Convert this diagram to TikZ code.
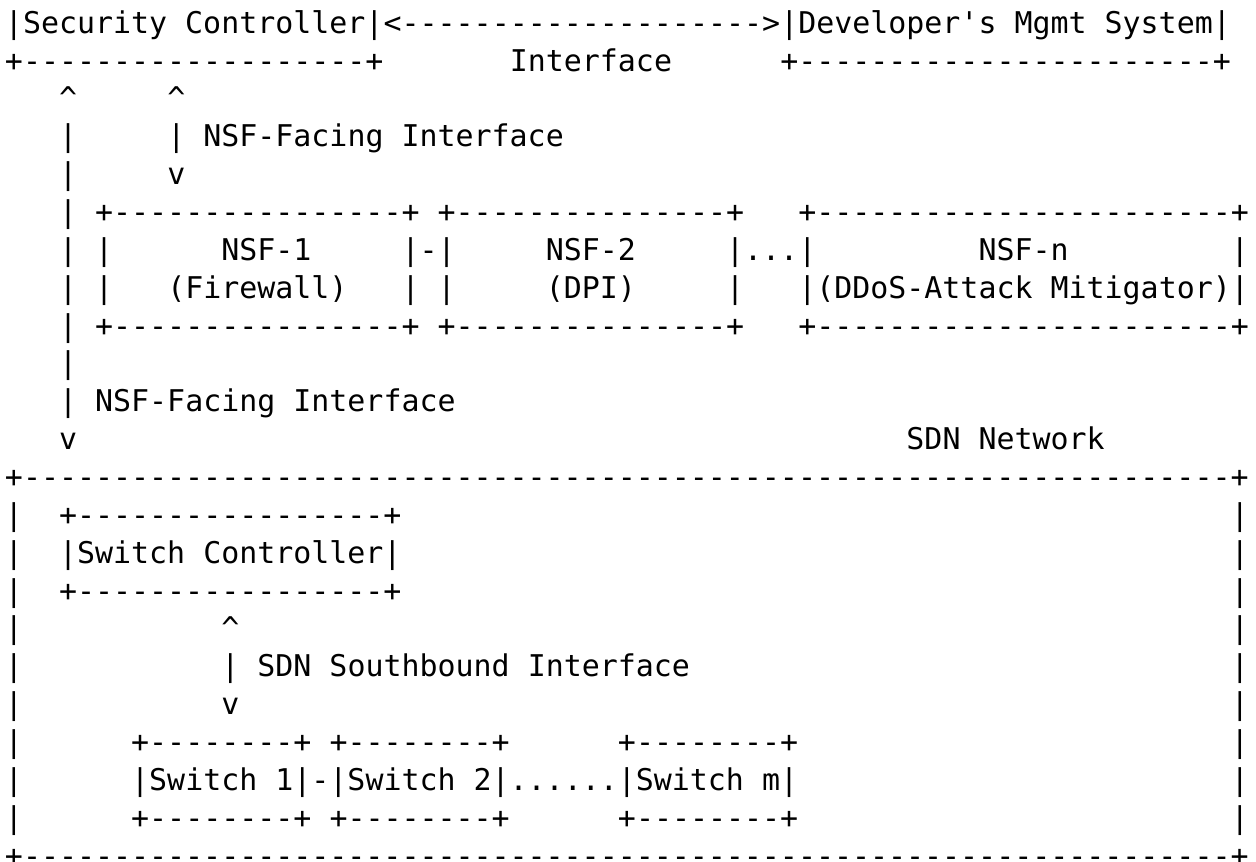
\documentclass[tikz,border=0pt]{standalone}
\usepackage{fontspec}
\newfontfamily\asciifont{DejaVu Sans Mono}[Ligatures=TeXOff]

\tikzset{ascii/.style={anchor=base west, inner sep=0pt, outer sep=0pt,
    font={\asciifont\fontsize{14.97pt}{18pt}\selectfont}}}
\newcommand\dashes[1]{\foreach \i in {1,...,#1}{-}}
\newcommand\cell[3]{\node[ascii] (r#1c#2) at (#2+0.277,#1-0.123) {#3};}

\begin{document}
\begin{tikzpicture}[x=9.015pt, y=-18.93pt]
    \fill[white] (0,0) rectangle (69.665,22.768);
    \useasboundingbox (0,0) rectangle (69.665,22.768);

    \cell{1}{0}{|Security Controller|}
    \cell{1}{21}{<\dashes{20}>}
    \cell{1}{43}{|Developer's Mgmt System|}
    \cell{2}{0}{+\dashes{19}+}
    \cell{2}{28}{Interface}
    \cell{2}{43}{+\dashes{23}+}

    \foreach \c in {3,9} {\cell{3}{\c}{\textasciicircum}}
    \foreach \r in {4,...,11} {\cell{\r}{3}{|}}
    \cell{4}{9}{|} \cell{4}{11}{NSF-Facing Interface}
    \cell{5}{9}{v}

    \foreach \r in {6,9} {
        \cell{\r}{5}{+\dashes{16}+}
        \cell{\r}{24}{+\dashes{15}+}
        \cell{\r}{44}{+\dashes{23}+}
    }
    \cell{7}{5}{|} \cell{7}{12}{NSF-1} \cell{7}{22}{|-|} \cell{7}{30}{NSF-2}
    \cell{7}{40}{|...|} \cell{7}{54}{NSF-n} \cell{7}{68}{|}
    \cell{8}{5}{|} \cell{8}{9}{(Firewall)} \cell{8}{22}{|} \cell{8}{24}{|}
    \cell{8}{30}{(DPI)} \cell{8}{40}{|} \cell{8}{44}{|(DDoS-Attack Mitigator)|}

    \cell{11}{5}{NSF-Facing Interface}
    \cell{12}{3}{v} \cell{12}{50}{SDN Network}

    \foreach \r in {13,23} {\cell{\r}{0}{+\dashes{67}+}}
    \foreach \r in {14,...,22} {
        \cell{\r}{0}{|}
        \cell{\r}{68}{|}
    }
    \foreach \r in {14,16} {\cell{\r}{3}{+\dashes{17}+}}
    \cell{15}{3}{|Switch Controller|}
    \cell{17}{12}{\textasciicircum}
    \cell{18}{12}{|} \cell{18}{14}{SDN Southbound Interface}
    \cell{19}{12}{v}
    \foreach \r in {20,22} {
        \foreach \c in {7,18,34} {\cell{\r}{\c}{+\dashes{8}+}}
    }
    \cell{21}{7}{|Switch 1|-|Switch 2|......|Switch m|}
\end{tikzpicture}
\end{document}
